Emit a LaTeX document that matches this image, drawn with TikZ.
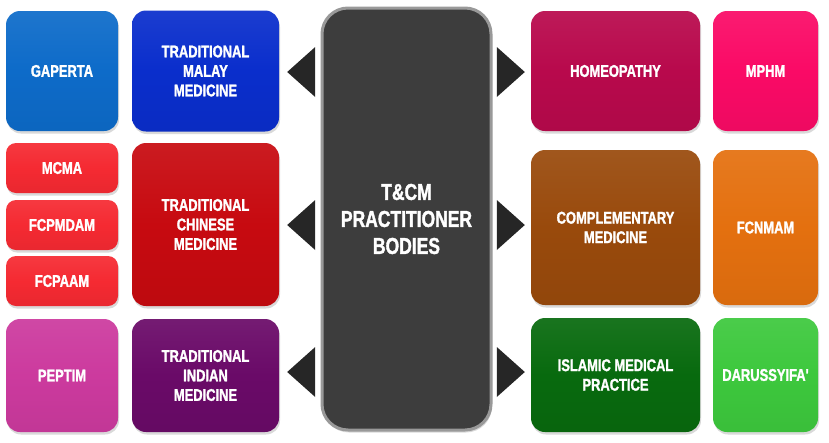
\documentclass[tikz,border=0pt]{standalone}
\usepackage{fontspec}
\newfontfamily\boxfont{Liberation Sans}[FakeStretch=0.76, BoldFeatures={FakeBold=1.5}]
\usetikzlibrary{shadows, calc}

\definecolor{gapertablue}{HTML}{0D6BC9}
\definecolor{malayblue}{HTML}{0A2ECC}
\definecolor{assocred}{HTML}{F52A32}
\definecolor{chinesered}{HTML}{C70A10}
\definecolor{peptimpink}{HTML}{CC3A9E}
\definecolor{indianpurple}{HTML}{6A0A68}
\definecolor{homeored}{HTML}{B8094C}
\definecolor{mphmpink}{HTML}{FA0A66}
\definecolor{complbrown}{HTML}{994A0C}
\definecolor{fcnmamorange}{HTML}{E4700F}
\definecolor{islamicgreen}{HTML}{086A0E}
\definecolor{darusgreen}{HTML}{3DC83D}
\definecolor{coregray}{HTML}{3D3D3D}
\definecolor{tipgray}{HTML}{262626}

\begin{document}
\begin{tikzpicture}[x=1pt, y=-1pt,
    bodybox/.style={rounded corners=14pt, inner sep=0pt, align=center, text=white,
      font=\boxfont\bfseries\fontsize{17}{19.5}\selectfont,
      top color=#1!93!white, bottom color=#1!95!black, middle color=#1,
      drop shadow={shadow xshift=1pt, shadow yshift=-2.5pt, opacity=0.3}},
    tipshape/.style={fill=tipgray}]
  \useasboundingbox (0,0) rectangle (829,442);

  % centre
  \node[bodybox=coregray, rounded corners=26pt, draw=gray!80, line width=3pt,
        top color=coregray, bottom color=coregray,
        minimum width=169pt, minimum height=422pt,
        font=\boxfont\bfseries\fontsize{23}{27}\selectfont]
    (core) at (406.5,219) {T\&CM\\PRACTITIONER\\BODIES};

  % left side
  \node[bodybox=malayblue, minimum width=147pt, minimum height=121pt]
    (malay) at (205.5,71) {TRADITIONAL\\MALAY\\MEDICINE};
  \node[bodybox=gapertablue, minimum width=112pt, minimum height=120pt]
    (gaperta) at (62,71) {GAPERTA};
  \node[bodybox=chinesered, minimum width=147pt, minimum height=163pt]
    (chinese) at (205.5,224.5) {TRADITIONAL\\CHINESE\\MEDICINE};
  \begin{scope}[every node/.style={bodybox=assocred, rounded corners=10pt,
      minimum width=112pt, minimum height=50pt}]
  \node (mcma) at (62,168) {MCMA};
  \node (fcpmdam) at (62,225) {FCPMDAM};
  \node (fcpaam) at (62,281) {FCPAAM};
  \end{scope}
  \node[bodybox=indianpurple, minimum width=147pt, minimum height=113pt]
    (indian) at (205.5,375.5) {TRADITIONAL\\INDIAN\\MEDICINE};
  \node[bodybox=peptimpink, minimum width=112pt, minimum height=113pt]
    (peptim) at (62,375.5) {PEPTIM};

  % right side
  \node[bodybox=homeored, minimum width=169pt, minimum height=120pt]
    (homeo) at (615.5,71) {HOMEOPATHY};
  \node[bodybox=mphmpink, minimum width=105pt, minimum height=120pt]
    (mphm) at (765.5,71) {MPHM};
  \node[bodybox=complbrown, minimum width=169pt, minimum height=155pt]
    (compl) at (615.5,227.5) {COMPLEMENTARY\\MEDICINE};
  \node[bodybox=fcnmamorange, minimum width=105pt, minimum height=155pt]
    (fcnmam) at (765.5,227.5) {FCNMAM};
  \node[bodybox=islamicgreen, minimum width=169pt, minimum height=114pt]
    (islamic) at (615.5,375) {ISLAMIC MEDICAL\\PRACTICE};
  \node[bodybox=darusgreen, minimum width=105pt, minimum height=114pt]
    (darus) at (765.5,375) {DARUSSYIFA'};

  % pointers
  \foreach \bodynode/\yy in {malay/72, chinese/225, indian/372}
    \fill[tipshape] ($(\bodynode.east |- 0,\yy)+(8,0)$) -- ++(28,-25) -- ++(0,50) -- cycle;
  \foreach \bodynode/\yy in {homeo/72, compl/225, islamic/372}
    \fill[tipshape] ($(\bodynode.west |- 0,\yy)+(-6,0)$) -- ++(-28,-25) -- ++(0,50) -- cycle;
\end{tikzpicture}
\end{document}
